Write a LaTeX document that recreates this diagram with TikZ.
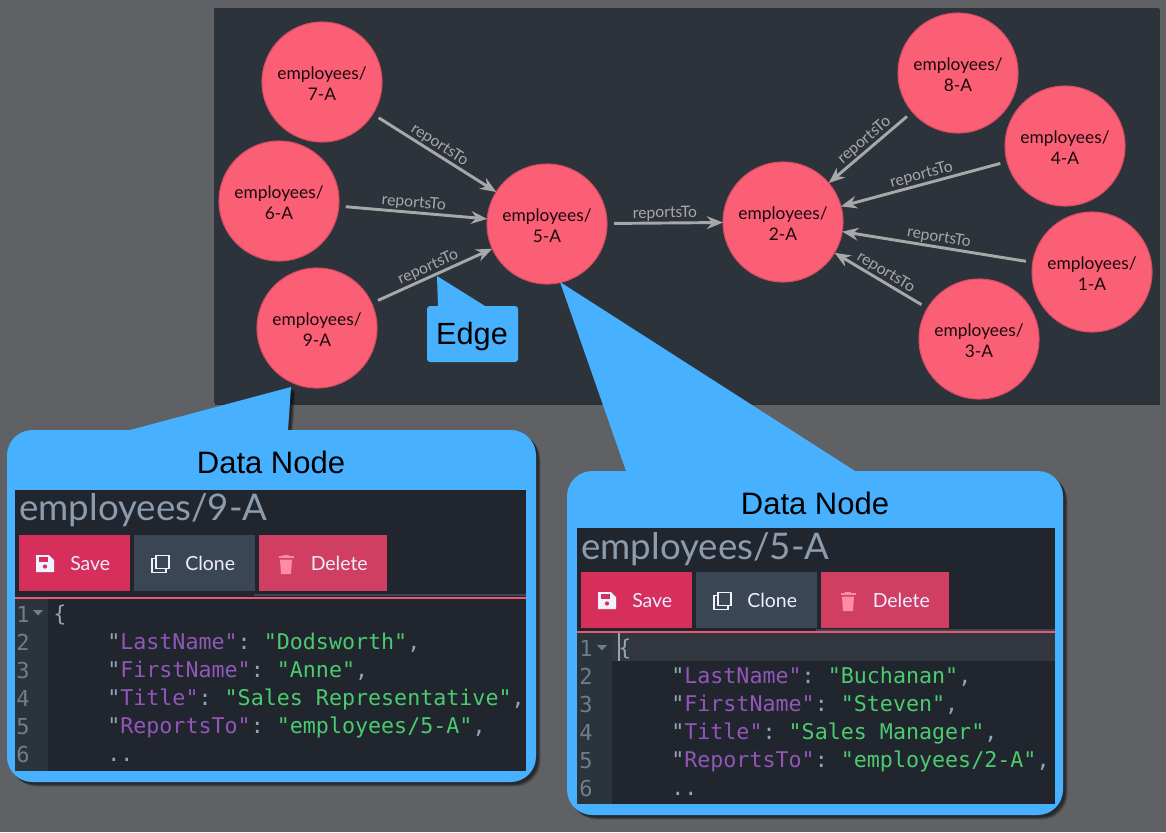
\documentclass[tikz,border=0pt]{standalone}
\usepackage{fontspec}
\setmainfont{Lato}
\setmonofont{DejaVu Sans Mono}
\newfontfamily\arialf{Liberation Sans}
\usetikzlibrary{arrows.meta}
\definecolor{bgc}{HTML}{606165}
\definecolor{panelc}{HTML}{2C333A}
\definecolor{blu}{HTML}{47B1FF}
\definecolor{edc}{HTML}{21252E}
\definecolor{gut}{HTML}{2B333B}
\definecolor{nodef}{HTML}{FA5F75}
\definecolor{noded}{HTML}{D94D63}
\definecolor{edgec}{HTML}{A8A8A8}
\definecolor{keyc}{HTML}{9157B8}
\definecolor{strc}{HTML}{4BCB70}
\definecolor{punc}{HTML}{93A5B5}
\definecolor{numc}{HTML}{6F7E8C}
\definecolor{pinkl}{HTML}{E85A72}
\definecolor{savec}{HTML}{D72F5B}
\definecolor{clonec}{HTML}{3B4655}
\definecolor{delc}{HTML}{D03F62}
\definecolor{titc}{HTML}{8C9CAD}
\definecolor{trashc}{HTML}{FF8DA1}
\newcommand{\lift}{\rule{0pt}{12.5pt}}
\tikzset{
  emp/.style={circle,fill=nodef,draw=noded,line width=0.8pt,minimum size=90pt,inner sep=0,outer sep=0,
    align=center,text=black!90!nodef,font=\fontsize{13}{15.75}\selectfont},
  rel/.style={draw=edgec,line width=2.2pt,-{Stealth[length=12pt,width=9.5pt]},shorten <=5.25pt,shorten >=0pt},
  rellab/.style={sloped,above,midway,inner sep=0.7pt,text=edgec,font=\fontsize{11.8}{13}\selectfont},
  calltitle/.style={font=\arialf\fontsize{23.25}{28}\selectfont,text=black,inner sep=0},
  btn/.style={anchor=north west,inner sep=0,outer sep=0,minimum height=42pt},
  btnlab/.style={text=white!93!blue,font=\fontsize{14.6}{16}\selectfont,inner sep=0},
  codet/.style={anchor=base west,inner sep=0,font=\ttfamily\fontsize{16.25}{20}\selectfont,text=punc},
  numt/.style={anchor=base west,inner sep=0,font=\ttfamily\fontsize{16.5}{20}\selectfont,text=numc},
  headt/.style={anchor=base west,inner sep=0,text=titc,font=\fontsize{27.5}{32}\selectfont},
}
\newcommand{\softshadow}[1]{%
  \fill[black,opacity=.18,shift={(4.5,4.5)}] #1;
  \fill[black,opacity=.25,shift={(3.5,3.5)}] #1;
  \fill[black,opacity=.30,shift={(2.5,2.5)}] #1;
}
\newcommand{\ky}[1]{\textcolor{punc}{"}\textcolor{keyc}{#1}\textcolor{keyc}{"}:}
\newcommand{\st}[1]{\textcolor{strc}{"#1"}}
% #1 name prefix : buttons drawn at the panel-1 position inside a shifted scope
\newcommand{\buttons}[1]{%
  \node[btn,fill=savec,minimum width=83.25pt] (#1save) at (19,535) {};
  \node[btn,fill=clonec,minimum width=90.75pt] (#1clone) at (134,535) {};
  \node[btn,fill=delc,minimum width=96pt] (#1del) at (259,535) {};
  \node[btnlab,anchor=base west] (#1savet) at (70,570) {Save};
  \node[btnlab,anchor=base west] (#1clonet) at (185,570) {Clone};
  \node[btnlab,anchor=base west] (#1delt) at (310.5,570) {Delete};
  % save icon
  \fill[white!95!blue] (36,555) -- (49,555) -- (54,560) -- (54,572) -- (36,572) -- cycle;
  \fill[savec] (39,557) rectangle (48,561.5);
  \fill[savec] (45,566.5) circle (2.1);
  % clone icon
  \draw[white!95!blue,line width=1.3pt] (156,555.5) rectangle (169,568.5);
  \draw[white!95!blue,line width=1.3pt] (156,558.5) -- (151.8,558.5) -- (151.8,572.5) -- (166,572.5) -- (166,568.5);
  % trash icon
  \fill[trashc] (278.5,556) rectangle (293.5,558.2);
  \fill[trashc] (283,554.5) rectangle (289,556.5);
  \fill[trashc] (280,559.5) -- (292,559.5) -- (291,574) -- (281,574) -- cycle;
}
\begin{document}
\begin{tikzpicture}[x=0.75pt,y=-0.75pt]
\useasboundingbox (0,0) rectangle (1166,832);
\fill[bgc] (0,0) rectangle (1166,832);
% graph panel
\fill[black,opacity=.5] (215,9) rectangle (1160,404.5);
\fill[panelc] (214,8) rectangle (1159,403);

% data nodes
\node[emp] (n7) at (322,82) {\lift employees/\\7-A};
\node[emp] (n6) at (279,201) {\lift employees/\\6-A};
\node[emp] (n9) at (317,328) {\lift employees/\\9-A};
\node[emp] (n5) at (547,224) {\lift employees/\\5-A};
\node[emp] (n2) at (783,222) {\lift employees/\\2-A};
\node[emp] (n8) at (958,73) {\lift employees/\\8-A};
\node[emp] (n4) at (1065,146) {\lift employees/\\4-A};
\node[emp] (n1) at (1092,272) {\lift employees/\\1-A};
\node[emp] (n3) at (979,339) {\lift employees/\\3-A};

% edges
\draw[rel] (n7) -- node[rellab] {reportsTo} (n5);
\draw[rel] (n6) -- node[rellab] {reportsTo} (n5);
\draw[rel] (n9) -- node[rellab] {reportsTo} (n5);
\draw[rel] (n5) -- node[rellab] {reportsTo} (n2);
\draw[rel] (n8) -- node[rellab] {reportsTo} (n2);
\draw[rel] (n4) -- node[rellab] {reportsTo} (n2);
\draw[rel] (n1) -- node[rellab] {reportsTo} (n2);
\draw[rel] (n3) -- node[rellab] {reportsTo} (n2);

% edge callout
\path[fill=blu,rounded corners=2.25pt] (427,340) -- (427,306) [sharp corners] -- (438,306) -- (437,276) -- (485,306) [rounded corners=2.25pt] -- (518,306) -- (518,362) -- (427,362) -- cycle;
\node[calltitle,font=\arialf\fontsize{23}{28}\selectfont] (edgelab) at (472,336.5) {Edge};

% callout 1
\softshadow{[rounded corners=19pt] (7,600) -- (7,430) [sharp corners] -- (130,430) -- (291,387) -- (288,430) [rounded corners=19pt] -- (536,430) -- (536,782) -- (7,782) -- cycle}
\path[fill=blu,rounded corners=19pt] (7,600) -- (7,430) [sharp corners] -- (130,430) -- (291,387) -- (288,430) [rounded corners=19pt] -- (536,430) -- (536,782) -- (7,782) -- cycle;
\node[calltitle] (dn1) at (271,462) {Data Node};
\fill[edc] (15,490) rectangle (526,771);
\node[headt] (h1) at (19,520) {employees/9-A};
\buttons{a}
\fill[clonec] (254,593.5) rectangle (526,596);
\fill[pinkl] (15,597) rectangle (526,599);
\fill[gut] (15,599) rectangle (48,771);
\fill[numc] (33,610) -- (43,610) -- (38,615.5) -- cycle;
\node[numt] (a1) at (16,622) {1};
\node[numt] (a2) at (16,650) {2};
\node[numt] (a3) at (16,678) {3};
\node[numt] (a4) at (16,706) {4};
\node[numt] (a5) at (16,734) {5};
\node[numt] (a6) at (16,762) {6};
\node[codet] (c1) at (53,621) {\{};
\node[codet] (c2) at (107,649) {\ky{LastName} \st{Dodsworth},};
\node[codet] (c3) at (107,677) {\ky{FirstName} \st{Anne},};
\node[codet] (c4) at (107,705) {\ky{Title} \st{Sales Representative},};
\node[codet] (c5) at (107,733) {\ky{ReportsTo} \st{employees/5-A},};
\node[codet] (c6) at (107,761) {..};

% callout 2
\softshadow{[rounded corners=19pt] (567,640) -- (567,471) [sharp corners] -- (626,471) -- (560,282) -- (855,471) [rounded corners=19pt] -- (1063,471) -- (1063,815) -- (567,815) -- cycle}
\path[fill=blu,rounded corners=19pt] (567,640) -- (567,471) [sharp corners] -- (626,471) -- (560,282) -- (855,471) [rounded corners=19pt] -- (1063,471) -- (1063,815) -- (567,815) -- cycle;
\node[calltitle] (dn2) at (815,503) {Data Node};
\fill[edc] (577,528) rectangle (1055,804);
\node[headt] (h2) at (581,559) {employees/5-A};
\begin{scope}[shift={(562,37)}]
\buttons{b}
\end{scope}
\fill[clonec] (816,629) rectangle (1055,630.5);
\fill[pinkl] (577,631) rectangle (1055,633);
\fill[gut] (577,633) rectangle (612,804);
\fill[white,opacity=.08] (612,633) rectangle (1055,661);
\fill[numc] (597,645) -- (607,645) -- (602,650.5) -- cycle;
\fill[punc] (618,633) rectangle (620,661);
\node[numt] (b1) at (579,656) {1};
\node[numt] (b2) at (579,684) {2};
\node[numt] (b3) at (579,712) {3};
\node[numt] (b4) at (579,740) {4};
\node[numt] (b5) at (579,768) {5};
\node[numt] (b6) at (579,796) {6};
\node[codet] (d1) at (618,655) {\{};
\node[codet] (d2) at (671,683) {\ky{LastName} \st{Buchanan},};
\node[codet] (d3) at (671,711) {\ky{FirstName} \st{Steven},};
\node[codet] (d4) at (671,739) {\ky{Title} \st{Sales Manager},};
\node[codet] (d5) at (671,767) {\ky{ReportsTo} \st{employees/2-A},};
\node[codet] (d6) at (671,795) {..};
\end{tikzpicture}
\end{document}
